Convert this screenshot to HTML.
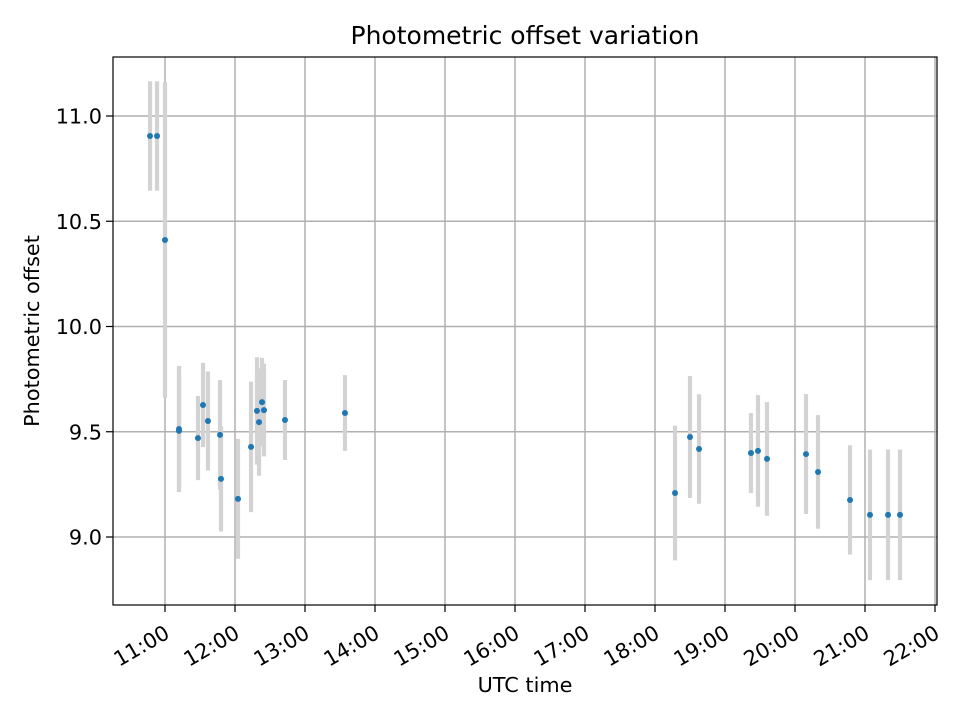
<!DOCTYPE html>
<html><head><meta charset="utf-8"><style>
html,body{margin:0;padding:0;background:#fff;}
svg{display:block;font-family:"DejaVu Sans","Liberation Sans",sans-serif;}
</style></head><body>
<svg id="chart" width="960" height="720" viewBox="0 0 960 720">
<rect width="960" height="720" fill="#fff"/>
<g id="grid"></g>
<g id="errs"></g>
<g id="pts"></g>
<rect x="113" y="57" width="824" height="548" fill="none" stroke="#000" stroke-width="1.2"/>
<g id="ticks"></g>
<text x="525" y="44" text-anchor="middle" font-size="25">Photometric offset variation</text>
<text x="525" y="692" text-anchor="middle" font-size="20.8">UTC time</text>
<text transform="translate(39,331) rotate(-90)" text-anchor="middle" font-size="20.8">Photometric offset</text>
</svg>
<script>
const times = [10.786,10.886,11.0,11.2,11.2,11.471,11.543,11.614,11.786,11.8,12.043,12.229,12.314,12.386,12.343,12.414,12.714,13.571,18.286,18.5,18.629,19.371,19.471,19.6,20.157,20.329,20.786,21.071,21.329,21.5];
const offsets = [10.905,10.905,10.411,9.513,9.504,9.470,9.627,9.551,9.485,9.276,9.181,9.428,9.599,9.641,9.546,9.603,9.556,9.589,9.209,9.475,9.418,9.399,9.409,9.371,9.394,9.309,9.176,9.105,9.105,9.105];
const errors = [0.26,0.26,0.75,0.30,0.27,0.20,0.20,0.235,0.26,0.25,0.285,0.31,0.255,0.21,0.255,0.22,0.19,0.18,0.32,0.29,0.26,0.19,0.265,0.27,0.285,0.27,0.26,0.31,0.31,0.31];
const xTickHours = [11,12,13,14,15,16,17,18,19,20,21,22];
const xTickLabels = ["11:00","12:00","13:00","14:00","15:00","16:00","17:00","18:00","19:00","20:00","21:00","22:00"];
const yTicks = [9.0,9.5,10.0,10.5,11.0];
const yTickLabels = ["9.0","9.5","10.0","10.5","11.0"];

const NS="http://www.w3.org/2000/svg";
const X = h => 165 + (h-11)*70;
const Y = v => 116 + (11-v)*210.5;
function mk(tag, attrs, parent){const e=document.createElementNS(NS,tag);for(const k in attrs)e.setAttribute(k,attrs[k]);parent.appendChild(e);return e;}
const grid=document.getElementById('grid'), ticks=document.getElementById('ticks');
const errs=document.getElementById('errs'), pts=document.getElementById('pts');
xTickHours.forEach((h,i)=>{
  const x=X(h);
  const g=mk('line',{x1:x,x2:x,y1:57,y2:605,stroke:'#b0b0b0','stroke-width':1.5},grid);
  
  
  const t=mk('line',{x1:x,x2:x,y1:605,y2:612,stroke:'#000','stroke-width':1.2},ticks);
  
  
  const l=mk('text',{transform:`translate(${x+6},${637}) rotate(-30)`,'text-anchor':'end','font-size':20.8},ticks);
  l.textContent=xTickLabels[i];
  
  
});
yTicks.forEach((v,i)=>{
  const y=Y(v);
  const g=mk('line',{x1:113,x2:937,y1:y,y2:y,stroke:'#b0b0b0','stroke-width':1.5},grid);
  
  
  const t=mk('line',{x1:106,x2:113,y1:y,y2:y,stroke:'#000','stroke-width':1.2},ticks);
  
  
  const l=mk('text',{x:102,y:y+7.5,'text-anchor':'end','font-size':20.8},ticks);
  l.textContent=yTickLabels[i];
  
  
});
times.forEach((h,i)=>{
  const x=X(h);
  const e=mk('line',{x1:x,x2:x,y1:Y(offsets[i]+errors[i]),y2:Y(offsets[i]-errors[i]),stroke:'#d3d3d3','stroke-width':4.2},errs);
  
  
  const c=mk('circle',{cx:x,cy:Y(offsets[i]),r:3,fill:'#1f77b4'},pts);
  
  
});
</script>
</body></html>
